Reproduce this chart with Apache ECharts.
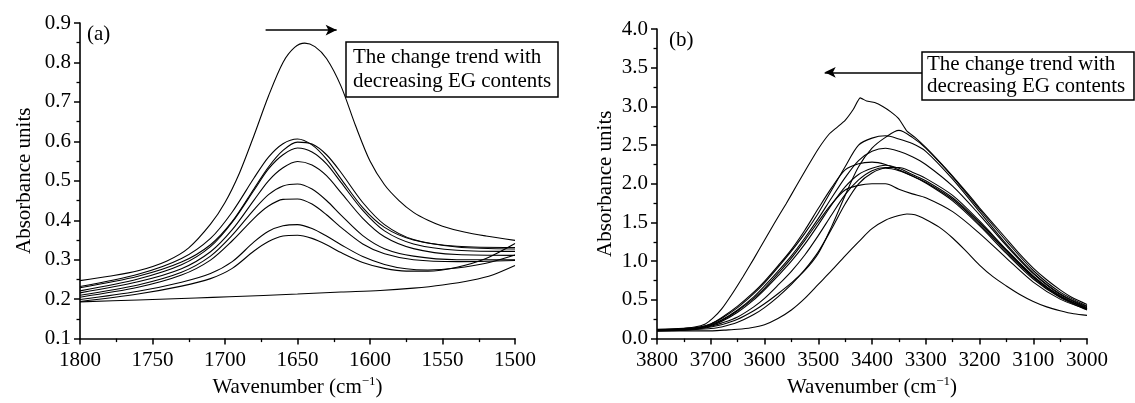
<!DOCTYPE html>
<html>
<head>
<meta charset="utf-8">
<script src="https://cdn.jsdelivr.net/npm/echarts@6/dist/echarts.min.js"></script>
<style>
html,body{margin:0;padding:0;background:#fff;}
#chart{width:1135px;height:403px;}
</style>
</head>
<body>
<div id="chart"></div>
<script>
// ---------- Panel (a): 1800-1500 cm-1 ----------
const wnA1 = [1800,1780,1760,1740,1725,1710,1700,1690,1680,1670,1660,1652,1645,1638,1630,1620,1610,1600,1590,1580,1570,1560,1550,1535,1520,1500];
const a1 = [0.247,0.258,0.272,0.297,0.330,0.390,0.445,0.520,0.615,0.715,0.800,0.838,0.849,0.840,0.810,0.740,0.640,0.550,0.490,0.450,0.420,0.400,0.385,0.370,0.360,0.349];

const wnAG = [1800,1760,1730,1710,1695,1680,1670,1660,1650,1640,1630,1620,1605,1590,1570,1540,1500];
const a2 = [0.232,0.263,0.303,0.354,0.421,0.507,0.560,0.594,0.606,0.591,0.555,0.505,0.432,0.382,0.350,0.334,0.331];
const a3 = [0.229,0.258,0.294,0.338,0.397,0.480,0.535,0.577,0.598,0.593,0.566,0.521,0.445,0.389,0.351,0.332,0.327];
const a4 = [0.221,0.251,0.287,0.333,0.395,0.476,0.530,0.566,0.583,0.573,0.543,0.496,0.425,0.373,0.340,0.324,0.321];
const a5 = [0.216,0.244,0.277,0.320,0.376,0.451,0.500,0.533,0.549,0.540,0.513,0.470,0.405,0.358,0.328,0.313,0.311];
const a6 = [0.210,0.236,0.268,0.309,0.362,0.427,0.465,0.487,0.492,0.479,0.450,0.413,0.361,0.328,0.309,0.300,0.300];
const a7 = [0.205,0.230,0.261,0.299,0.348,0.405,0.436,0.453,0.454,0.441,0.414,0.382,0.340,0.315,0.300,0.295,0.298];

const wnAL = [1800,1760,1730,1710,1695,1680,1670,1660,1650,1640,1630,1620,1605,1590,1575,1560,1540,1520,1500];
const a8 = [0.199,0.220,0.243,0.265,0.295,0.345,0.372,0.386,0.389,0.379,0.360,0.338,0.308,0.288,0.277,0.274,0.279,0.291,0.312];
const a9 = [0.194,0.213,0.233,0.252,0.278,0.322,0.346,0.360,0.362,0.354,0.338,0.318,0.293,0.278,0.271,0.271,0.281,0.303,0.341];

const wnA10 = [1800,1760,1720,1697,1650,1620,1593,1570,1550,1530,1515,1500];
const a10 = [0.193,0.198,0.203,0.206,0.213,0.218,0.222,0.228,0.236,0.248,0.262,0.285];

// ---------- Panel (b): 3800-3000 cm-1 ----------
const wnB1 = [3800,3760,3730,3710,3695,3680,3660,3640,3620,3600,3580,3560,3540,3520,3500,3480,3465,3450,3435,3422,3410,3395,3380,3365,3350,3335,3320,3300,3275,3250,3225,3200,3175,3150,3125,3100,3075,3050,3025,3000];
const b1 = [0.12,0.13,0.15,0.19,0.27,0.38,0.58,0.80,1.03,1.27,1.51,1.74,1.98,2.22,2.45,2.64,2.73,2.82,2.96,3.11,3.07,3.05,3.00,2.93,2.84,2.68,2.60,2.47,2.29,2.10,1.90,1.69,1.49,1.29,1.09,0.91,0.76,0.63,0.52,0.44];

const wnBG = [3800,3750,3720,3700,3680,3650,3620,3600,3575,3550,3525,3500,3475,3450,3425,3400,3375,3350,3325,3300,3250,3200,3150,3100,3050,3000];
const b2 = [0.11,0.12,0.13,0.15,0.18,0.25,0.36,0.45,0.58,0.72,0.88,1.10,1.45,1.85,2.22,2.46,2.60,2.69,2.60,2.46,2.09,1.67,1.26,0.88,0.60,0.42];
const b3 = [0.11,0.13,0.15,0.19,0.26,0.40,0.58,0.72,0.92,1.13,1.36,1.62,1.92,2.22,2.50,2.59,2.62,2.58,2.52,2.42,2.06,1.64,1.22,0.85,0.58,0.41];
const b4 = [0.11,0.12,0.14,0.18,0.24,0.37,0.54,0.68,0.87,1.07,1.30,1.55,1.82,2.08,2.30,2.42,2.46,2.42,2.35,2.25,1.97,1.60,1.20,0.84,0.57,0.40];
const b5 = [0.11,0.12,0.15,0.19,0.27,0.42,0.60,0.74,0.94,1.15,1.40,1.68,1.95,2.18,2.26,2.28,2.25,2.18,2.10,2.02,1.80,1.48,1.12,0.79,0.54,0.39];
const b6 = [0.11,0.12,0.14,0.17,0.22,0.34,0.50,0.63,0.81,1.00,1.22,1.47,1.73,1.96,2.12,2.20,2.24,2.20,2.12,2.04,1.82,1.50,1.14,0.80,0.55,0.39];
const b7 = [0.10,0.11,0.13,0.16,0.20,0.28,0.41,0.52,0.69,0.87,1.08,1.33,1.60,1.86,2.05,2.17,2.21,2.21,2.15,2.07,1.85,1.52,1.15,0.81,0.55,0.38];
const b8 = [0.10,0.11,0.12,0.13,0.15,0.21,0.31,0.40,0.54,0.70,0.89,1.12,1.42,1.74,2.00,2.14,2.20,2.17,2.10,2.01,1.78,1.46,1.10,0.77,0.53,0.37];
const b9 = [0.11,0.12,0.14,0.17,0.23,0.36,0.52,0.65,0.84,1.04,1.27,1.51,1.74,1.92,1.98,2.00,2.00,1.93,1.87,1.82,1.64,1.36,1.04,0.73,0.51,0.38];

const wnB10 = [3800,3750,3700,3675,3650,3625,3600,3575,3550,3525,3500,3475,3450,3425,3400,3375,3350,3335,3320,3300,3275,3250,3225,3200,3175,3150,3125,3100,3075,3050,3025,3000];
const b10 = [0.10,0.10,0.10,0.11,0.12,0.14,0.18,0.26,0.37,0.52,0.70,0.88,1.07,1.25,1.42,1.53,1.59,1.61,1.60,1.54,1.44,1.30,1.13,0.95,0.80,0.68,0.57,0.48,0.41,0.36,0.32,0.30];

// annotation texts and arrow positions (data space)
const noteText = ['The change trend with', 'decreasing EG contents'];
const arrowA = [[1672, 0.882], [1623, 0.882]];
const arrowB = [[3307, 3.44], [3488, 3.44]];

const FONT = '"Liberation Serif", "Times New Roman", serif';
const zip = (xs, ys) => xs.map((x, i) => [x, ys[i]]);

function lineSeries(xs, ys, gi, extra) {
  return Object.assign({
    type: 'line', xAxisIndex: gi, yAxisIndex: gi,
    data: zip(xs, ys), showSymbol: false, symbol: 'none',
    smooth: 0.3, lineStyle: { color: '#000', width: 1.1 },
    silent: true, animation: false
  }, extra || {});
}

function arrowMark(a) {
  return {
    silent: true, symbol: ['none', 'arrow'], symbolSize: [8, 11],
    lineStyle: { color: '#000', width: 1.6, type: 'solid' },
    label: { show: false }, animation: false,
    data: [[{ coord: a[0] }, { coord: a[1] }]]
  };
}

function xAx(gi, min, max, interval) {
  return {
    type: 'value', gridIndex: gi, min, max, interval, inverse: true,
    axisLine: { show: true, onZero: false, lineStyle: { color: '#000', width: 1.6 } },
    axisTick: { show: true, length: 6, lineStyle: { color: '#000', width: 1.5 } },
    minorTick: { show: true, splitNumber: 2, length: 3.5, lineStyle: { color: '#000', width: 1.3 } },
    splitLine: { show: false },
    axisLabel: { color: '#000', fontFamily: FONT, fontSize: 21, margin: 11, formatter: v => String(v) },
    name: '{t|Wavenumber (cm}{s|\u22121}{t|)}',
    nameLocation: 'middle', nameGap: 35,
    nameTextStyle: {
      rich: {
        t: { fontFamily: FONT, fontSize: 21, color: '#000', lineHeight: 24 },
        s: { fontFamily: FONT, fontSize: 13, color: '#000', verticalAlign: 'top', lineHeight: 24 }
      }
    }
  };
}

function yAx(gi, min, max, interval, gap) {
  return {
    type: 'value', gridIndex: gi, min, max, interval,
    axisLine: { show: true, onZero: false, lineStyle: { color: '#000', width: 1.6 } },
    axisTick: { show: true, length: 6, lineStyle: { color: '#000', width: 1.5 } },
    minorTick: { show: true, splitNumber: 2, length: 3.5, lineStyle: { color: '#000', width: 1.3 } },
    splitLine: { show: false },
    axisLabel: { color: '#000', fontFamily: FONT, fontSize: 21, margin: 9, formatter: v => v.toFixed(1) },
    name: 'Absorbance units', nameLocation: 'middle', nameGap: gap,
    nameTextStyle: { fontFamily: FONT, fontSize: 21, color: '#000' }
  };
}

const chart = echarts.init(document.getElementById('chart'), null, { renderer: 'canvas' });

const noteStyle = (x, y, lh) => ({
  type: 'text', left: x, top: y, silent: true,
  style: { text: noteText.join('\n'), font: '21px ' + FONT, fill: '#000', lineHeight: lh }
});

chart.setOption({
  animation: false,
  backgroundColor: '#fff',
  grid: [
    { left: 80, top: 23, width: 435, height: 324 },
    { left: 657, top: 29, width: 430, height: 319 }
  ],
  xAxis: [xAx(0, 1500, 1800, 50), xAx(1, 3000, 3800, 100)],
  yAxis: [yAx(0, 0.1, 0.9, 0.1, 45), yAx(1, 0, 4, 0.5, 41)],
  series: [
    lineSeries(wnA1, a1, 0, { markLine: arrowMark(arrowA) }),
    lineSeries(wnAG, a2, 0), lineSeries(wnAG, a3, 0), lineSeries(wnAG, a4, 0),
    lineSeries(wnAG, a5, 0), lineSeries(wnAG, a6, 0), lineSeries(wnAG, a7, 0),
    lineSeries(wnAL, a8, 0), lineSeries(wnAL, a9, 0),
    lineSeries(wnA10, a10, 0),
    lineSeries(wnB1, b1, 1, { smooth: 0.15, markLine: arrowMark(arrowB) }),
    lineSeries(wnBG, b2, 1), lineSeries(wnBG, b3, 1), lineSeries(wnBG, b4, 1),
    lineSeries(wnBG, b5, 1), lineSeries(wnBG, b6, 1), lineSeries(wnBG, b7, 1),
    lineSeries(wnBG, b8, 1), lineSeries(wnBG, b9, 1),
    lineSeries(wnB10, b10, 1)
  ],
  graphic: [
    { type: 'rect', silent: true, shape: { x: 346, y: 42, width: 212, height: 55 },
      style: { fill: '#fff', stroke: '#000', lineWidth: 1.5 } },
    noteStyle(353, 45, 24),
    { type: 'rect', silent: true, shape: { x: 922, y: 52, width: 212, height: 48 },
      style: { fill: '#fff', stroke: '#000', lineWidth: 1.5 } },
    noteStyle(927, 53, 22),
    { type: 'text', left: 87, top: 24, silent: true,
      style: { text: '(a)', font: '21px ' + FONT, fill: '#000' } },
    { type: 'text', left: 669, top: 30, silent: true,
      style: { text: '(b)', font: '21px ' + FONT, fill: '#000' } }
  ]
});
</script>
</body>
</html>
